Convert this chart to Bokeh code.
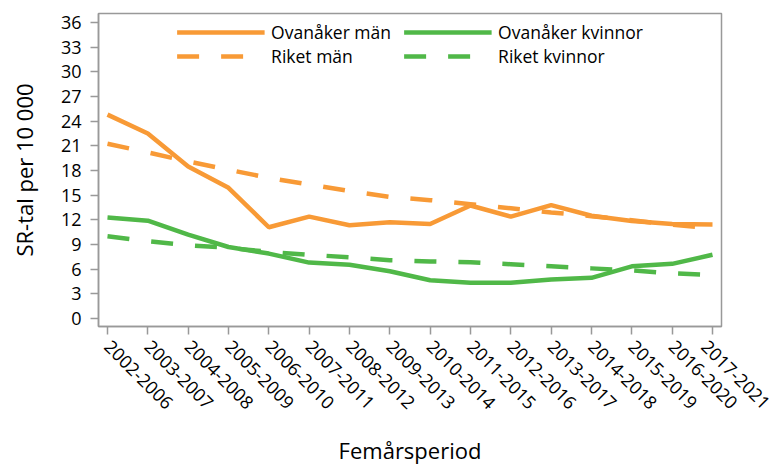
import math
from bokeh.plotting import figure
from bokeh.models import Range1d, FixedTicker, Legend, LegendItem
from bokeh.embed import file_html
from bokeh.resources import INLINE

periods = ["2002-2006", "2003-2007", "2004-2008", "2005-2009", "2006-2010",
           "2007-2011", "2008-2012", "2009-2013", "2010-2014", "2011-2015",
           "2012-2016", "2013-2017", "2014-2018", "2015-2019", "2016-2020",
           "2017-2021"]
ovanaker_man = [24.8, 22.5, 18.5, 15.9, 11.1, 12.4, 11.35, 11.7, 11.5, 13.75,
                12.4, 13.8, 12.5, 11.85, 11.5, 11.45]
riket_man = [21.25, 20.2, 19.1, 18.1, 17.1, 16.3, 15.5, 14.8, 14.4, 13.9,
             13.4, 12.9, 12.45, 11.95, 11.4, 11.0]
ovanaker_kvinnor = [12.3, 11.9, 10.2, 8.7, 7.9, 6.8, 6.55, 5.75, 4.65, 4.35,
                    4.35, 4.75, 4.95, 6.35, 6.65, 7.75]
riket_kvinnor = [10.0, 9.4, 8.9, 8.6, 8.1, 7.75, 7.45, 7.1, 6.95, 6.85,
                 6.6, 6.35, 6.1, 5.85, 5.5, 5.3]
y_ticks = [0, 3, 6, 9, 12, 15, 18, 21, 24, 27, 30, 33, 36]

ORANGE = "#F89A36"
GREEN = "#50B848"
FONT = "Open Sans"

x = list(range(len(periods)))

p = figure(width=771, height=468, output_backend="svg", toolbar_location=None,
           x_range=Range1d(-0.223, 15.223), y_range=Range1d(-0.97, 37.1),
           min_border_left=98, min_border_right=50, min_border_top=13,
           min_border_bottom=142)

r1 = p.line(x, ovanaker_man, line_color=ORANGE, line_width=4.5)
r2 = p.line(x, ovanaker_kvinnor, line_color=GREEN, line_width=4.5)
r3 = p.line(x, riket_man, line_color=ORANGE, line_width=4.5, line_dash="22 22")
r4 = p.line(x, riket_kvinnor, line_color=GREEN, line_width=4.5, line_dash="22 22")

p.xgrid.visible = False
p.ygrid.visible = False
p.outline_line_color = "#999999"
p.outline_line_width = 1.5

p.xaxis.ticker = FixedTicker(ticks=x)
p.xaxis.major_label_overrides = {i: s for i, s in enumerate(periods)}
p.xaxis.major_label_orientation = -math.pi / 4
p.yaxis.ticker = FixedTicker(ticks=y_ticks)

for ax in (p.xaxis[0], p.yaxis[0]):
    ax.axis_line_color = "#999999"
    ax.axis_line_width = 1.5
    ax.major_tick_line_color = "#999999"
    ax.major_tick_line_width = 1.5
    ax.major_tick_in = 0
    ax.major_tick_out = 8
    ax.minor_tick_line_color = None
    ax.major_label_text_font = FONT
    ax.major_label_text_font_size = "18px"
    ax.major_label_text_color = "#000000"
    ax.axis_label_text_font = FONT
    ax.axis_label_text_font_size = "22px"
    ax.axis_label_text_font_style = "normal"
    ax.axis_label_text_color = "#000000"

p.xaxis.axis_label = "Femårsperiod"
p.yaxis.axis_label = "SR-tal per 10 000"
p.yaxis.major_label_standoff = 9
p.xaxis.major_label_standoff = 9
p.xaxis.axis_label_standoff = 17
p.yaxis.axis_label_standoff = 19

legend = Legend(items=[
    LegendItem(label="Ovanåker män", renderers=[r1]),
    LegendItem(label="Riket män", renderers=[r3]),
    LegendItem(label="Ovanåker kvinnor", renderers=[r2]),
    LegendItem(label="Riket kvinnor", renderers=[r4]),
], location="top_center", ncols=2)
legend.border_line_color = None
legend.background_fill_alpha = 0
legend.label_text_font = FONT
legend.label_text_font_size = "17.5px"
legend.label_text_color = "#000000"
legend.glyph_width = 88
legend.glyph_height = 22
legend.label_standoff = 7
legend.label_width = 132
legend.label_height = 22
legend.spacing = 0
legend.padding = 0
legend.margin = 7
p.add_layout(legend)

open("out.html", "w").write(file_html(p, INLINE))
